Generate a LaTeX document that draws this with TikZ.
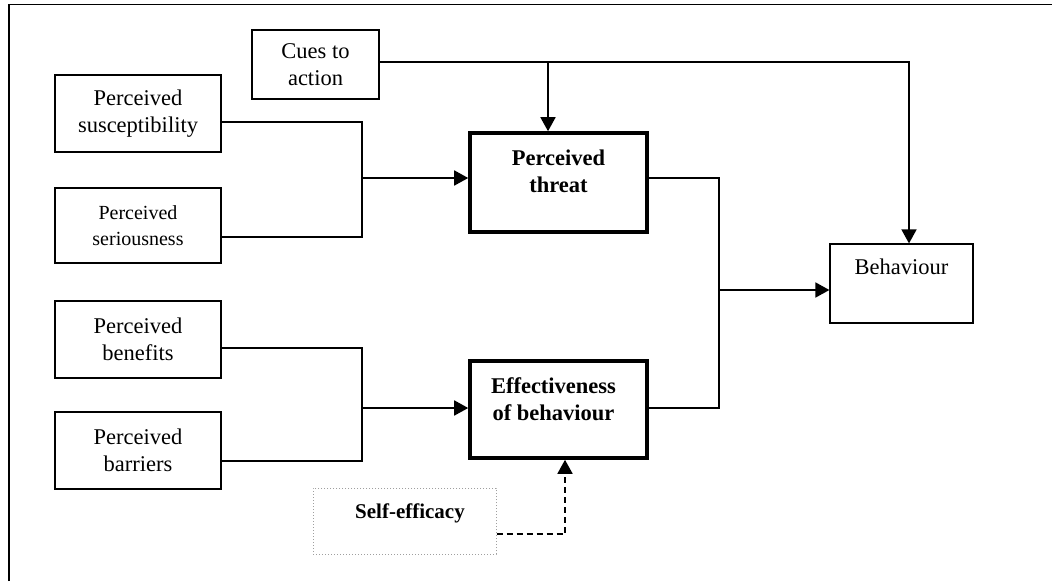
\documentclass[tikz,border=0pt]{standalone}
\usepackage{fontspec}
\setmainfont{Liberation Serif}
\usetikzlibrary{arrows.meta,calc}

\tikzset{
  plainbox/.style={draw, line width=1.2pt, rectangle, inner sep=0pt, align=center,
                   font=\fontsize{22.5}{27}\selectfont},
  heavybox/.style={draw, line width=3.6pt, rectangle, inner sep=0pt},
  faintbox/.style={draw=gray!75, dotted, line width=1pt, rectangle, inner sep=0pt},
  heavytext/.style={align=center, inner sep=0pt, font=\fontsize{22.5}{27}\selectfont\bfseries},
  link/.style={line width=1.7pt},
  linkarrow/.style={link, -{Triangle[length=14pt,width=15pt]}},
  dasharrow/.style={linkarrow, dash pattern=on 6pt off 4pt},
}

\begin{document}
\begin{tikzpicture}[x=1pt, y=-1pt]
\useasboundingbox (0,0) rectangle (1052,581);

% frame (top and left edges)
\draw[line width=1.5pt] (9,581) -- (9,4.5) -- (1052,4.5);

% boxes
\node[plainbox, minimum width=127pt, minimum height=69pt] (cues) at (315.5,64.5) {Cues to\\action};
\node[plainbox, minimum width=166pt, minimum height=77pt] (susc) at (138,113.5) {Perceived\\susceptibility};
\node[plainbox, minimum width=166pt, minimum height=75pt,
      font=\fontsize{20}{26}\selectfont] (seri) at (138,225.5) {Perceived\\seriousness};
\node[plainbox, minimum width=166pt, minimum height=77pt] (bene) at (138,339.5) {Perceived\\benefits};
\node[plainbox, minimum width=166pt, minimum height=77pt] (barr) at (138,450.5) {Perceived\\barriers};

\node[heavybox, minimum width=177pt, minimum height=99pt] (threat) at (558.5,182.5) {};
\node[heavytext] (threattext) at ([yshift=11pt]threat.center) {Perceived\\threat};

\node[heavybox, minimum width=177pt, minimum height=97pt] (eff) at (558.5,409.5) {};
\node[heavytext] (efftext) at ([xshift=-5pt,yshift=10pt]eff.center) {Effectiveness\\of behaviour};

\node[faintbox, minimum width=183pt, minimum height=66pt] (self) at (404.5,521) {};
\node[heavytext, font=\fontsize{21}{26}\selectfont\bfseries] (selftext)
      at ([xshift=5.5pt,yshift=8pt]self.center) {Self-efficacy};

\node[plainbox, minimum width=143pt, minimum height=79pt] (beh) at (901.5,283.5) {};
\node[align=center, inner sep=0pt, font=\fontsize{22.5}{27}\selectfont] (behtext)
      at ([yshift=16.5pt]beh.center) {Behaviour};

% junction points
\coordinate (jt) at (362,178);
\coordinate (jb) at (362,408);
\coordinate (jr) at (719,290);
\coordinate (cb) at (909,62);
\coordinate (cs) at (548,62);
\coordinate (se) at (565,534);

% susceptibility + seriousness -> perceived threat
\draw[link] ([yshift=-8.5pt]susc.east) -| (jt) |- ([yshift=-11.5pt]seri.east);
\draw[linkarrow] (jt) -- (jt -| threat.west);

% benefits + barriers -> effectiveness
\draw[link] ([yshift=-8.5pt]bene.east) -| (jb) |- ([yshift=-10.5pt]barr.east);
\draw[linkarrow] (jb) -- (jb -| eff.west);

% threat + effectiveness -> behaviour
\draw[link] (threat.east |- jt) -| (jr) |- (eff.east |- jb);
\draw[linkarrow] (jr) -- (jr -| beh.west);

% cues to action
\draw[linkarrow] (cues.east |- cb) -| (cb |- beh.north);
\draw[linkarrow] (cs) -- (cs |- threat.north);

% self-efficacy
\draw[dasharrow] (self.east |- se) -| (se |- eff.south);
\end{tikzpicture}
\end{document}
